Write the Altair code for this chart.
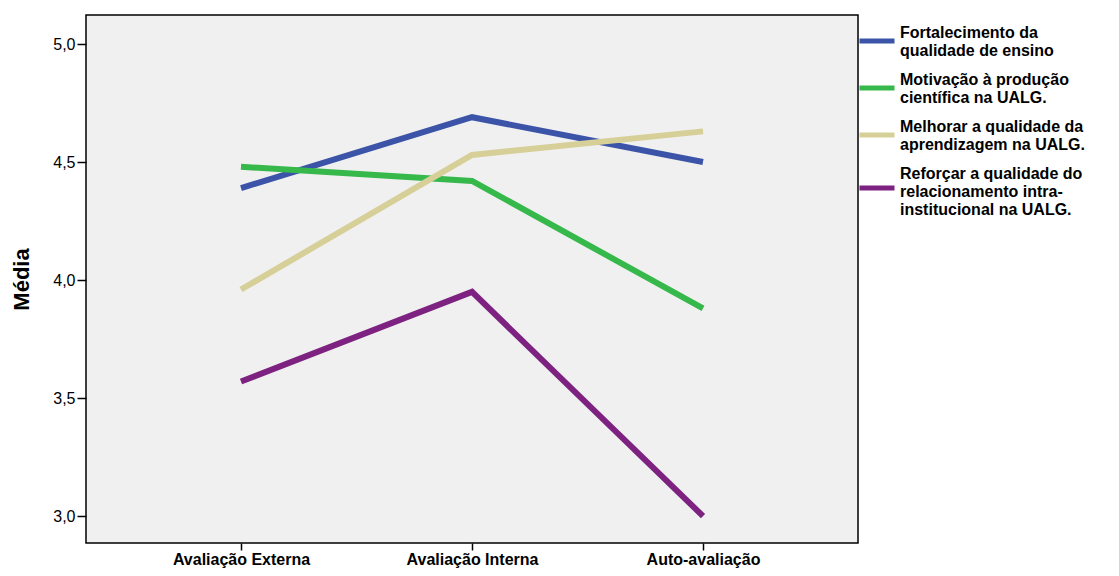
import altair as alt
import pandas as pd

categories = ["Avaliação Externa", "Avaliação Interna", "Auto-avaliação"]
series = [
    "Fortalecimento da\nqualidade de ensino",
    "Motivação à produção\ncientífica na UALG.",
    "Melhorar a qualidade da\naprendizagem na UALG.",
    "Reforçar a qualidade do\nrelacionamento intra-\ninstitucional na UALG.",
]
fortalecimento = [4.39, 4.69, 4.50]
motivacao = [4.48, 4.42, 3.88]
melhorar = [3.96, 4.53, 4.63]
reforcar = [3.57, 3.95, 3.00]
colors = ["#3b54a8", "#36b84a", "#d6cf98", "#7d2280"]
# legend swatch shapes (horizontal strokes, vertically centred on each wrapped label)
swatches = ["M-1,0.46H1", "M-1,0.46H1", "M-1,0.46H1", "M-1,0.8H1"]

rows = []
for s, vals in zip(series, [fortalecimento, motivacao, melhorar, reforcar]):
    for c, v in zip(categories, vals):
        rows.append({"cat": c, "serie": s, "media": v})
df = pd.DataFrame(rows)

FONT = "Liberation Sans"

legend = alt.Legend(title=None, orient="none", legendX=771, legendY=-2, padding=0,
                    symbolSize=1225, symbolStrokeWidth=5, symbolOpacity=1,
                    labelExpr="split(datum.label, '\\n')",
                    labelFont=FONT, labelFontSize=16, labelFontWeight="bold",
                    labelColor="black", labelLimit=0, labelOffset=3,
                    rowPadding=1, labelBaseline="middle")

x_enc = alt.X("cat:N", sort=categories, title=None,
              scale=alt.Scale(type="point", padding=0.671),
              axis=alt.Axis(labelAngle=0, labelFont=FONT, labelFontSize=16, labelFontWeight="bold",
                            labelColor="black", tickColor="black", tickSize=7, tickWidth=1.5,
                            domain=False, labelPadding=1, labelBaseline="top", grid=False))
y_enc = alt.Y("media:Q", title="Média",
              scale=alt.Scale(domain=[2.886, 5.123], nice=False, zero=False),
              axis=alt.Axis(values=[3.0, 3.5, 4.0, 4.5, 5.0],
                            labelExpr="replace(format(datum.value, '.1f'), '.', ',')",
                            labelFont=FONT, labelFontSize=16, labelColor="black",
                            tickColor="black", tickSize=9, tickWidth=1.5, domain=False,
                            labelPadding=2, grid=False,
                            titleFont=FONT, titleFontSize=22, titleFontWeight="bold",
                            titleColor="black", titlePadding=19))

base = alt.Chart(df)

lines = base.mark_line(strokeWidth=6, strokeCap="butt", strokeJoin="miter").encode(
    x=x_enc, y=y_enc,
    color=alt.Color("serie:N", sort=series, scale=alt.Scale(domain=series, range=colors),
                    legend=None),
)

legend_layer = base.mark_point(
    filled=False, strokeWidth=5, size=1225, opacity=0
).encode(
    x=x_enc, y=y_enc,
    color=alt.Color("serie:N", sort=series, scale=alt.Scale(domain=series, range=colors),
                    legend=legend),
    shape=alt.Shape("serie:N", sort=series, scale=alt.Scale(domain=series, range=swatches),
                    legend=legend),
)

chart = alt.layer(lines, legend_layer).resolve_legend(
    color="independent", shape="independent"
).properties(
    width=772, height=528,
    autosize=alt.AutoSizeParams(type="none"),
    padding={"left": 78, "top": 7, "right": 253, "bottom": 25},
    background="white",
).configure_view(
    fill="#f0f0f0", stroke="black", strokeWidth=1.5
)

chart.save("out.html", embed_options={"renderer": "svg", "actions": False})
